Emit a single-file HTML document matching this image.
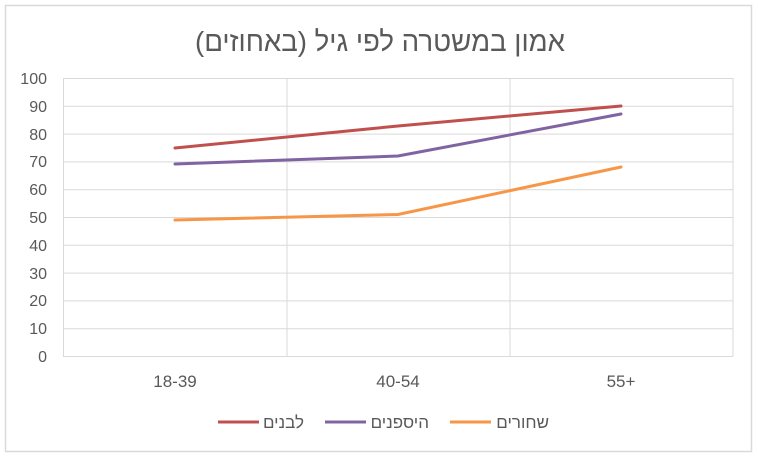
<!DOCTYPE html>
<html><head><meta charset="utf-8"><style>
html,body{margin:0;padding:0;background:#fff;}
svg{display:block;}
text{font-family:"Liberation Sans","Noto Sans CJK JP",sans-serif;fill:#595959;}
</style></head><body>
<svg width="758" height="456" viewBox="0 0 758 456" xmlns="http://www.w3.org/2000/svg">
<rect x="0" y="0" width="758" height="456" fill="#fff"/>
<rect x="5.5" y="5.5" width="746" height="446" fill="#fff" stroke="#d9d9d9" stroke-width="1.5"/>
<text x="380" y="51" text-anchor="middle" font-size="28" direction="rtl" textLength="370" lengthAdjust="spacingAndGlyphs">אמון במשטרה לפי גיל (באחוזים)</text>
<g stroke="#d9d9d9" stroke-width="1">
<line x1="63" y1="78.5" x2="733" y2="78.5"/>
<line x1="63" y1="106.3" x2="733" y2="106.3"/>
<line x1="63" y1="134.1" x2="733" y2="134.1"/>
<line x1="63" y1="161.9" x2="733" y2="161.9"/>
<line x1="63" y1="189.7" x2="733" y2="189.7"/>
<line x1="63" y1="217.5" x2="733" y2="217.5"/>
<line x1="63" y1="245.3" x2="733" y2="245.3"/>
<line x1="63" y1="273.1" x2="733" y2="273.1"/>
<line x1="63" y1="300.9" x2="733" y2="300.9"/>
<line x1="63" y1="328.7" x2="733" y2="328.7"/>
<line x1="63" y1="356.5" x2="733" y2="356.5"/>
<line x1="63.5" y1="78" x2="63.5" y2="356"/>
<line x1="287" y1="78" x2="287" y2="356"/>
<line x1="510" y1="78" x2="510" y2="356"/>
<line x1="733" y1="78" x2="733" y2="356"/>
</g>
<g font-size="16" text-anchor="end">
<text x="47" y="84">100</text><text x="47" y="112">90</text><text x="47" y="140">80</text>
<text x="47" y="167">70</text><text x="47" y="195">60</text><text x="47" y="223">50</text>
<text x="47" y="251">40</text><text x="47" y="279">30</text><text x="47" y="306">20</text>
<text x="47" y="334">10</text><text x="47" y="362">0</text>
</g>
<g font-size="17" text-anchor="middle">
<text x="175" y="387">18-39</text><text x="398" y="387">40-54</text><text x="621" y="387">55+</text>
</g>
<g fill="none" stroke-width="3" stroke-linecap="round">
<polyline points="175,148 398,126 621,106" stroke="#c0504d"/>
<polyline points="175,164 398,156 621,114" stroke="#8064a2"/>
<polyline points="175,220 398,214.5 621,167" stroke="#f79646"/>
</g>
<g stroke-width="3">
<line x1="218" y1="422" x2="259" y2="422" stroke="#c0504d"/>
<line x1="325" y1="422" x2="366" y2="422" stroke="#8064a2"/>
<line x1="450" y1="422" x2="491" y2="422" stroke="#f79646"/>
</g>
<g font-size="17" direction="rtl" text-anchor="start">
<text x="304" y="428">לבנים</text>
<text x="429" y="428">היספנים</text>
<text x="549" y="428">שחורים</text>
</g>
</svg>
</body></html>
